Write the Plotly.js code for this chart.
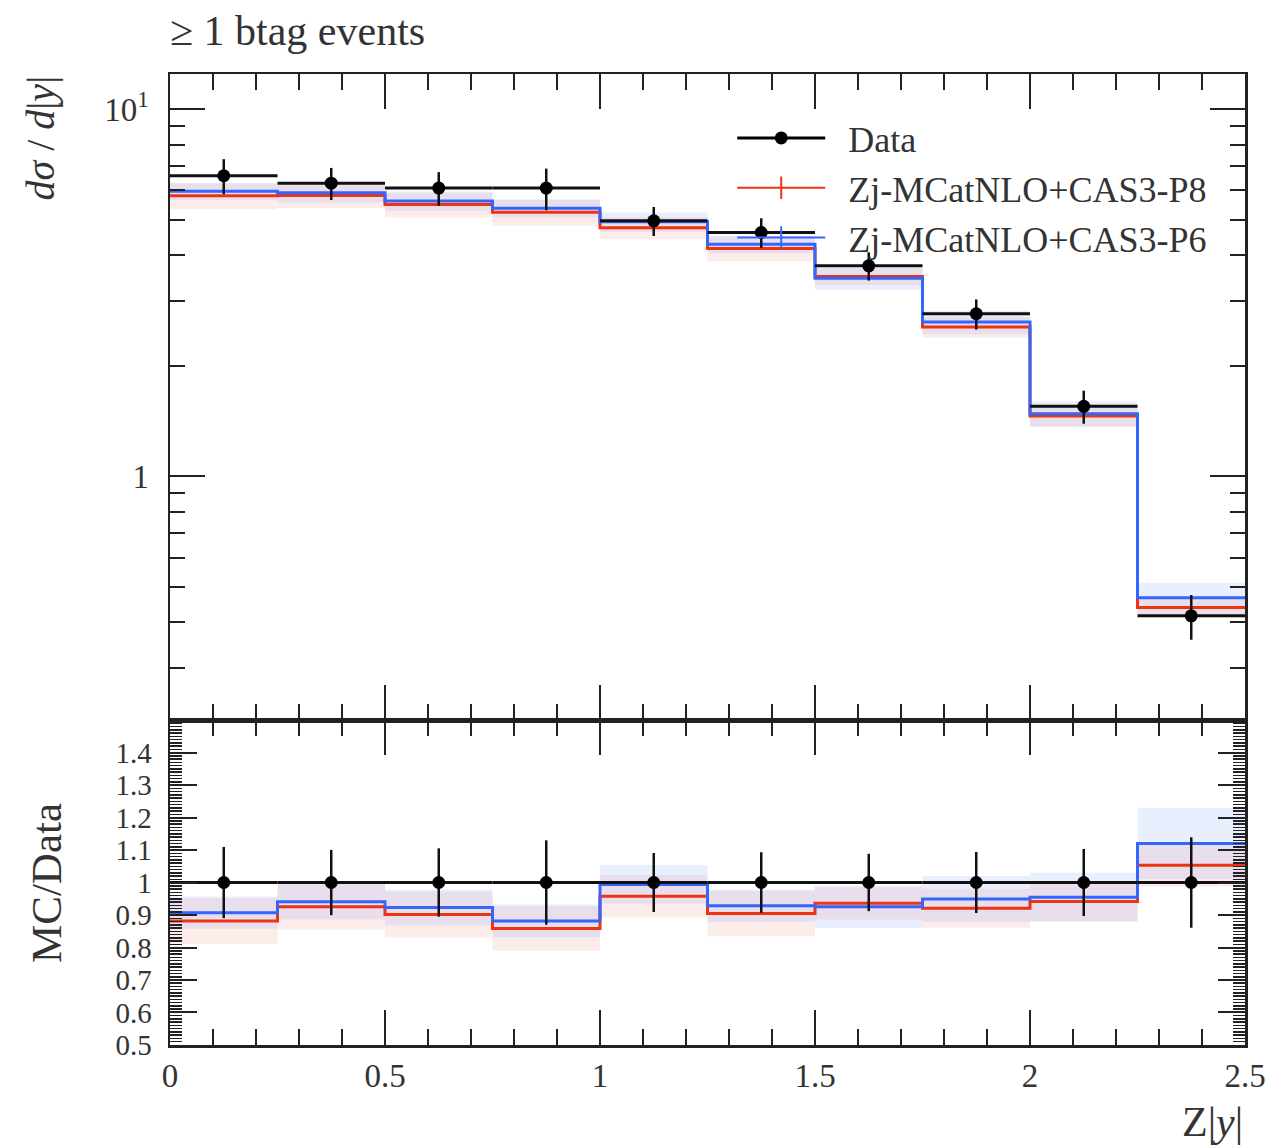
<!DOCTYPE html>
<html><head><meta charset="utf-8">
<script src="https://cdn.plot.ly/plotly-3.0.1.min.js"></script>
<style>html,body{margin:0;padding:0;background:#fff}</style>
</head><body><div id="plot" style="width:1272px;height:1146px"></div>
<script>
// ---- data ----
const binEdges = [0, 0.25, 0.5, 0.75, 1, 1.25, 1.5, 1.75, 2, 2.25, 2.5];
const dataY   = [6.58, 6.28, 6.09, 6.09, 4.96, 4.61, 3.74, 2.77, 1.55, 0.417];
const dataErr = [0.72, 0.63, 0.64, 0.79, 0.45, 0.43, 0.33, 0.26, 0.16, 0.058];
const mcP8    = [5.80, 5.81, 5.49, 5.23, 4.75, 4.17, 3.50, 2.55, 1.46, 0.439];
const mcP6    = [5.97, 5.91, 5.62, 5.37, 4.93, 4.28, 3.46, 2.63, 1.48, 0.467];
const bandP8  = [0.080, 0.075, 0.078, 0.080, 0.068, 0.077, 0.053, 0.065, 0.064, 0.062]; // relative
const bandP6  = [0.055, 0.058, 0.060, 0.057, 0.060, 0.054, 0.070, 0.074, 0.079, 0.098]; // relative
const seriesNames = ["Data", "Zj-MCatNLO+CAS3-P8", "Zj-MCatNLO+CAS3-P6"];
const xTickVals = [0, 0.5, 1, 1.5, 2, 2.5];
const xTickText = ["0", "0.5", "1", "1.5", "2", "2.5"];
const yTopTickVals = [1, 10];
const yTopTickText = ["1", "10<sup>1</sup>"];
const yTopMinorVals = [0.3, 0.4, 0.5, 0.6, 0.7, 0.8, 0.9, 2, 3, 4, 5, 6, 7, 8, 9];
const ratioTickVals = [0.5, 0.6, 0.7, 0.8, 0.9, 1, 1.1, 1.2, 1.3, 1.4];
const ratioTickText = ["0.5", "0.6", "0.7", "0.8", "0.9", "1", "1.1", "1.2", "1.3", "1.4"];

// ---- derived ----
const centers = dataY.map((_, i) => (binEdges[i] + binEdges[i + 1]) / 2);
const halfW = dataY.map((_, i) => (binEdges[i + 1] - binEdges[i]) / 2);
const step = v => v.concat([v[v.length - 1]]);
const ratio = (a) => a.map((v, i) => v / dataY[i]);

const RED = '#EE3311', BLUE = '#3366FF';
const RED_FILL = 'rgba(238,51,17,0.09)', BLUE_FILL = 'rgba(51,102,255,0.10)';
const FONT = 'Liberation Serif, Times New Roman, serif';
const PAD = '\u00a0\u00a0';

function bandTraces(mc, rel, fill, xa, ya, norm) {
  const lo = mc.map((v, i) => v * (1 - rel[i]) / (norm ? dataY[i] : 1));
  const hi = mc.map((v, i) => v * (1 + rel[i]) / (norm ? dataY[i] : 1));
  return [
    {x: binEdges, y: step(lo), mode: 'lines', line: {width: 0, shape: 'hv'}, xaxis: xa, yaxis: ya, showlegend: false, hoverinfo: 'skip'},
    {x: binEdges, y: step(hi), mode: 'lines', line: {width: 0, shape: 'hv'}, fill: 'tonexty', fillcolor: fill, xaxis: xa, yaxis: ya, showlegend: false, hoverinfo: 'skip'}
  ];
}
function lineTrace(vals, color, xa, ya) {
  return {x: binEdges, y: step(vals), mode: 'lines', line: {color: color, width: 3, shape: 'hv'}, xaxis: xa, yaxis: ya, showlegend: false};
}
function dataTrace(y, err, xa, ya) {
  return {x: centers, y: y, mode: 'markers', marker: {symbol: 'circle', size: 13, color: '#000'},
    error_y: {type: 'data', array: err, color: '#111', thickness: 2.5, width: 0},
    error_x: {type: 'data', array: halfW, color: '#111', thickness: 3, width: 0},
    xaxis: xa, yaxis: ya, showlegend: false};
}

const traces = [
  ...bandTraces(mcP8, bandP8, RED_FILL, 'x2', 'y2', false),
  ...bandTraces(mcP6, bandP6, BLUE_FILL, 'x2', 'y2', false),
  lineTrace(mcP8, RED, 'x2', 'y2'),
  lineTrace(mcP6, BLUE, 'x2', 'y2'),
  dataTrace(dataY, dataErr, 'x2', 'y2'),
  ...bandTraces(mcP8, bandP8, RED_FILL, 'x', 'y', true),
  ...bandTraces(mcP6, bandP6, BLUE_FILL, 'x', 'y', true),
  lineTrace(ratio(mcP8), RED, 'x', 'y'),
  lineTrace(ratio(mcP6), BLUE, 'x', 'y'),
  dataTrace(dataY.map(() => 1), dataErr.map((e, i) => e / dataY[i]), 'x', 'y'),
  // legend entries
  {x: [null], y: [null], mode: 'lines+markers', name: PAD + seriesNames[0], line: {color: '#000', width: 3},
   marker: {symbol: 'circle', size: 13, color: '#000'}, xaxis: 'x2', yaxis: 'y2'},
  {x: [null], y: [null], mode: 'lines+markers', name: PAD + seriesNames[1], line: {color: RED, width: 2},
   marker: {symbol: 'line-ns-open', size: 30, line: {color: RED, width: 2}}, xaxis: 'x2', yaxis: 'y2'},
  {x: [null], y: [null], mode: 'lines+markers', name: PAD + seriesNames[2], line: {color: BLUE, width: 2},
   marker: {symbol: 'line-ns-open', size: 30, line: {color: BLUE, width: 2}}, xaxis: 'x2', yaxis: 'y2'}
];

const AX = '#222';
const common = {showline: true, linecolor: AX, linewidth: 2.5, mirror: 'allticks', ticks: 'inside',
  tickcolor: AX, tickwidth: 2, showgrid: false, zeroline: false, tickfont: {family: FONT, size: 33, color: '#333'}};

const layout = {
  width: 1272, height: 1146,
  margin: {l: 170, r: 27, t: 74, b: 101},
  paper_bgcolor: '#fff', plot_bgcolor: '#fff',
  font: {family: FONT, color: '#333'},
  showlegend: true,
  legend: {x: 0.523, y: 0.965, xanchor: 'left', yanchor: 'top', bgcolor: 'rgba(0,0,0,0)', traceorder: 'normal',
           font: {family: FONT, size: 36, color: '#333'}, itemwidth: 88, tracegroupgap: 0},
  xaxis: Object.assign({}, common, {anchor: 'y', domain: [0, 1], range: [0, 2.5], tickmode: 'array',
    tickvals: xTickVals, ticktext: xTickText, ticklen: 35, ticklabelstandoff: 0,
    minor: {tickmode: 'linear', tick0: 0, dtick: 0.1, ticks: 'inside', ticklen: 16, tickwidth: 2, tickcolor: AX}}),
  yaxis: Object.assign({}, common, {anchor: 'x', domain: [0, 0.3347], range: [0.5, 1.5], tickmode: 'array',
    tickvals: ratioTickVals, ticktext: ratioTickText, ticklen: 27, ticklabelstandoff: 10,
    tickfont: {family: FONT, size: 29, color: '#333'},
    minor: {tickmode: 'linear', tick0: 0, dtick: 0.01, ticks: 'inside', ticklen: 12, tickwidth: 1.5, tickcolor: AX}}),
  xaxis2: Object.assign({}, common, {anchor: 'y2', matches: 'x', range: [0, 2.5], showticklabels: false,
    tickmode: 'array', tickvals: xTickVals, ticklen: 35,
    minor: {tickmode: 'linear', tick0: 0, dtick: 0.1, ticks: 'inside', ticklen: 16, tickwidth: 2, tickcolor: AX}}),
  yaxis2: Object.assign({}, common, {anchor: 'x2', domain: [0.3347, 1], type: 'log',
    range: [Math.log10(0.217), Math.log10(12.45)], tickmode: 'array', tickvals: yTopTickVals, ticktext: yTopTickText,
    ticklen: 35, ticklabelstandoff: 12,
    minor: {tickmode: 'array', tickvals: yTopMinorVals, ticks: 'inside', ticklen: 15, tickwidth: 2, tickcolor: AX}}),
  title: {text: '≥ 1 btag events', x: 0, xref: 'paper', xanchor: 'left', y: 1 - 30 / 1146, yref: 'container', yanchor: 'middle',
          font: {family: FONT, size: 42, color: '#333'}},
  annotations: [
    {text: '<i>dσ</i> / <i>d</i>|<i>y</i>|', xref: 'paper', yref: 'paper', x: (40 - 170) / 1075, y: (1045 - 74) / 971,
     xanchor: 'center', yanchor: 'top', textangle: -90, showarrow: false, font: {family: FONT, size: 40, color: '#333'}},
    {text: 'MC/Data', xref: 'paper', yref: 'paper', x: (46 - 170) / 1075, y: (1045 - 883) / 971,
     xanchor: 'center', yanchor: 'middle', textangle: -90, showarrow: false, font: {family: FONT, size: 43, color: '#333'}},
    {text: 'Z|<i>y</i>|', xref: 'paper', yref: 'paper', x: 1, y: (1045 - 1122) / 971,
     xanchor: 'right', yanchor: 'middle', showarrow: false, font: {family: FONT, size: 42, color: '#333'}}
  ]
};

Plotly.newPlot('plot', traces, layout, {staticPlot: true, displayModeBar: false});
</script>
</body></html>
